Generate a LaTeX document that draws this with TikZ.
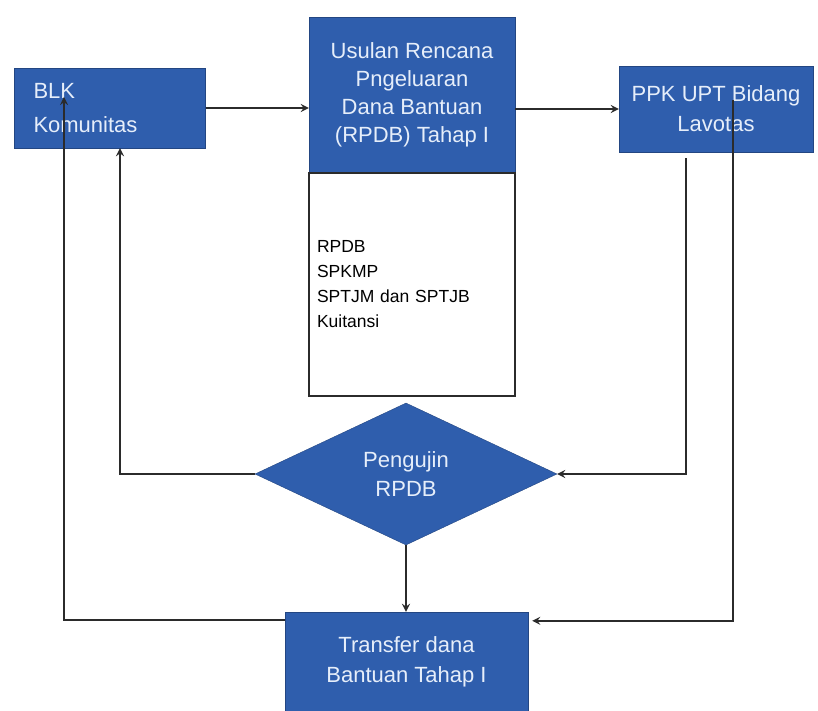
\documentclass[tikz,border=0pt]{standalone}
\usepackage{fontspec}
\setmainfont{Liberation Sans}
\usepackage{xcolor}
\usepackage{tikz}
\usetikzlibrary{shapes.geometric, arrows, positioning, calc}
\definecolor{boxblue}{HTML}{2F5EAD}
\definecolor{lineblk}{HTML}{2B2B2B}
\definecolor{softwhite}{HTML}{E6EEFA}

\begin{document}
\begin{tikzpicture}[x=1pt, y=-1pt, font=\fontsize{22}{29}\selectfont]
    \tikzstyle{box} = [rectangle, draw=boxblue!75!black, fill=boxblue, text=softwhite, align=center, inner sep=0pt]
    \tikzstyle{cond} = [diamond, draw=boxblue!75!black, fill=boxblue, text=softwhite, align=center, inner sep=0pt, minimum width=302pt, minimum height=142pt]
    \tikzstyle{doc} = [rectangle, draw=lineblk, line width=1.5pt, fill=white, align=left, inner xsep=8pt, text width=190pt, minimum height=223pt, font=\fontsize{17.5}{25}\selectfont]
    \tikzstyle{arrow} = [line width=2.5pt, draw=lineblk, ->, >=stealth]

    \useasboundingbox [fill=white] (0,0) rectangle (818,711);

    % Components
    \node (blk) [box, minimum width=191pt, minimum height=80pt, text width=153pt, align=left, font=\fontsize{22}{34}\selectfont] at (110,108) {BLK\\Komunitas};
    \node (usulan) [box, minimum width=206pt, minimum height=155pt, font=\fontsize{22}{28}\selectfont] at (412,94.5) {Usulan Rencana\\Pngeluaran\\Dana Bantuan\\(RPDB) Tahap I};
    \node (dok) [doc, below=0pt of usulan] {RPDB\\SPKMP\\SPTJM dan SPTJB\\Kuitansi};
    \node (ppk) [box, minimum width=194pt, minimum height=86pt, font=\fontsize{22}{30}\selectfont] at (716,109) {PPK UPT Bidang\\Lavotas};

    \node (uji) [cond] at (406,474) {Pengujin\\RPDB};
    \node (transfer) [box, minimum width=243pt, minimum height=100pt, font=\fontsize{22}{30}\selectfont] at (406.5,662) {Transfer dana\\Bantuan Tahap I};

    % Connector ends
    \coordinate (blkin) at ($(blk.center)+(-46,-11)$);
    \coordinate (ppkin) at ($(ppk.center)+(17,-9)$);

    % Connections
    \draw [arrow] (blk.east) -- (blk.east -| usulan.west);
    \draw [arrow] (usulan.east |- ppk.west) -- (ppk.west);
    \draw [arrow] ($(ppk.south)+(-30,6)$) |- (uji.east);
    \draw [arrow] (uji.west) -| ($(blk.south)+(10,0)$);
    \draw [arrow] (uji.south) -- (uji.south |- transfer.north);
    \draw [arrow] ($(transfer.north west)+(0,8)$) -| (blkin);
    \draw [arrow] (ppkin) |- ($(transfer.north east)+(4,9)$);
\end{tikzpicture}
\end{document}
